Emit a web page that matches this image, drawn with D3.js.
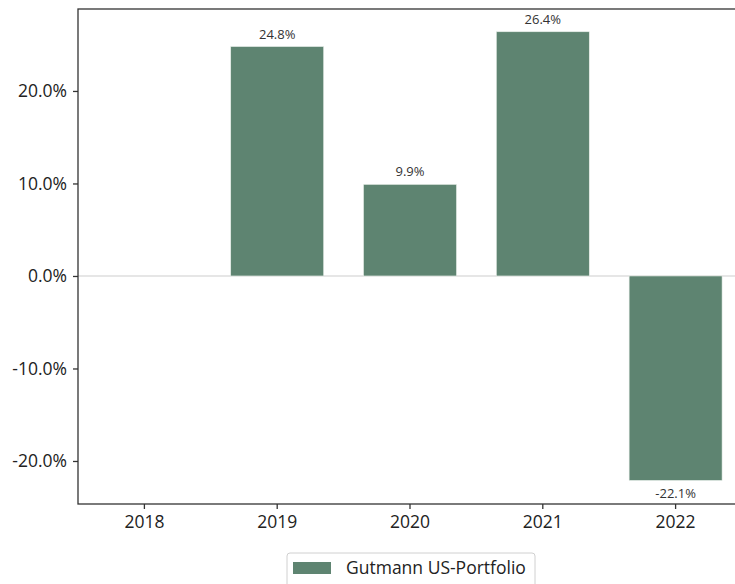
<!DOCTYPE html>
<html>
<head>
<meta charset="utf-8">
<script src="https://cdn.jsdelivr.net/npm/d3@7"></script>
<style>
  body { margin: 0; background: #fff; }
  svg { display: block; font-family: "Open Sans", sans-serif; }
</style>
</head>
<body>
<div id="chart"></div>
<script>
var years = ["2018", "2019", "2020", "2021", "2022"];
var returns = [null, 24.8, 9.9, 26.4, -22.1];
var yTicks = [-20, -10, 0, 10, 20];
var seriesName = "Gutmann US-Portfolio";

var svgWidth = 735;
var svgHeight = 584;

// plot area runs a little past the right edge, like the cropped original
var margin = { top: 9, right: -7, bottom: 80, left: 78 };
var width = svgWidth - margin.left - margin.right;
var height = svgHeight - margin.top - margin.bottom;

var barColor = "#5e8471";

var svg = d3.select("#chart")
  .append("svg")
  .attr("width", svgWidth)
  .attr("height", svgHeight);

var chartGroup = svg.append("g")
  .attr("transform", `translate(${margin.left}, ${margin.top})`);

var data = years.map((y, i) => ({ year: y, value: returns[i] }));

var xScale = d3.scaleBand()
  .domain(years)
  .range([0, width])
  .paddingInner(0.3)
  .paddingOuter(0.15);

var yScale = d3.scaleLinear()
  .domain([-24.65, 28.86])
  .range([height, 0]);

// zero line
chartGroup.append("line")
  .attr("x1", 0)
  .attr("x2", width)
  .attr("y1", yScale(0))
  .attr("y2", yScale(0))
  .attr("stroke", "#dedede")
  .attr("stroke-width", 1.5);

var valid = data.filter(d => d.value !== null);

chartGroup.selectAll("rect.bar")
  .data(valid)
  .enter()
  .append("rect")
  .attr("class", "bar")
  .attr("x", d => xScale(d.year))
  .attr("width", xScale.bandwidth())
  .attr("y", d => yScale(Math.max(0, d.value)))
  .attr("height", d => Math.abs(yScale(d.value) - yScale(0)))
  .attr("fill", barColor)
  .attr("stroke", "#e8efe9")
  .attr("stroke-width", 0.6);

chartGroup.selectAll("text.lbl")
  .data(valid)
  .enter()
  .append("text")
  .attr("class", "lbl")
  .attr("x", d => xScale(d.year) + xScale.bandwidth() / 2)
  .attr("y", d => d.value >= 0 ? yScale(d.value) - 8 : yScale(d.value) + 18)
  .attr("text-anchor", "middle")
  .style("font-size", "13px")
  .style("fill", "#333")
  .text(d => d.value.toFixed(1) + "%");

// axes
var leftAxis = d3.axisLeft(yScale)
  .tickValues(yTicks)
  .tickSize(5)
  .tickPadding(6)
  .tickFormat(d => d.toFixed(1) + "%");

var bottomAxis = d3.axisBottom(xScale)
  .tickSize(5)
  .tickPadding(7);

var yAxisG = chartGroup.append("g").call(leftAxis);
var xAxisG = chartGroup.append("g")
  .attr("transform", `translate(0, ${height})`)
  .call(bottomAxis);

[yAxisG, xAxisG].forEach(g => {
  g.select(".domain").remove();
  g.selectAll(".tick line").attr("stroke", "#333").attr("stroke-width", 1.3);
  g.selectAll(".tick text")
    .style("font-size", "17.5px")
    .style("font-family", "'Open Sans', sans-serif")
    .style("fill", "#222");
});

// frame
chartGroup.append("rect")
  .attr("x", 0)
  .attr("y", 0)
  .attr("width", width)
  .attr("height", height)
  .attr("fill", "none")
  .attr("stroke", "#333")
  .attr("stroke-width", 1.3);

// legend
var legend = svg.append("g")
  .attr("transform", "translate(287, 553)");

legend.append("rect")
  .attr("width", 248)
  .attr("height", 50)
  .attr("rx", 3)
  .attr("fill", "#fff")
  .attr("stroke", "#d0d0d0");

legend.append("rect")
  .attr("x", 6)
  .attr("y", 9)
  .attr("width", 38)
  .attr("height", 12)
  .attr("fill", barColor);

legend.append("text")
  .attr("x", 59)
  .attr("y", 21)
  .style("font-size", "17.5px")
  .style("fill", "#222")
  .text(seriesName);
</script>
</body>
</html>
